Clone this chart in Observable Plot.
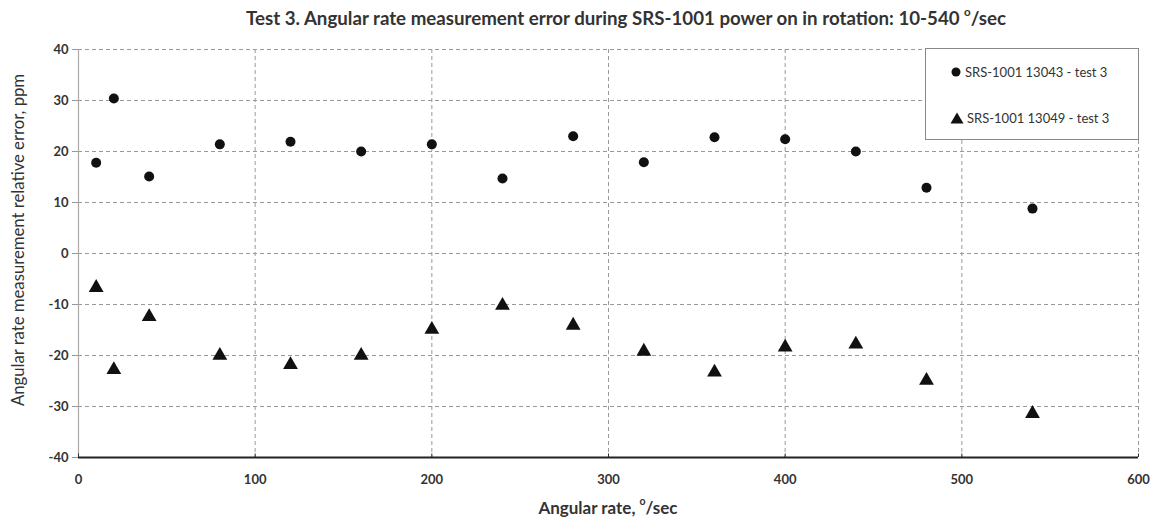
<!DOCTYPE html>
<html>
<head>
<meta charset="utf-8">
<script src="https://cdn.jsdelivr.net/npm/d3@7"></script>
<script src="https://cdn.jsdelivr.net/npm/@observablehq/plot@0.6"></script>
<style>
  body { margin: 0; background: #fff; font-family: Lato, "Open Sans", sans-serif; }
  #wrap { position: relative; width: 1158px; height: 519px; }
  #chart { position: absolute; left: 0; top: 0; }
  .title { position: absolute; left: 0; width: 1158px; top: 7px; text-align: center; font-weight: bold; font-size: 18.7px; color: #333; padding-left: 94px; box-sizing: border-box; }
  .xlabel { position: absolute; left: 78px; width: 1060px; top: 497px; text-align: center; font-weight: bold; font-size: 17px; color: #333; }
  .ylabel { position: absolute; left: 18px; top: 240px; transform: translate(-50%, -50%) rotate(-90deg); white-space: nowrap; font-size: 16.7px; color: #333; }
  sup { font-size: 0.62em; position: relative; top: -0.15em; vertical-align: top; }
  .legend { position: absolute; left: 925px; top: 48px; width: 214px; height: 92px; border: 1px solid #888; background: #fff; box-sizing: border-box; font-size: 13px; color: #333; }
  .legend .item { position: absolute; left: 24px; display: flex; align-items: center; white-space: nowrap; }
  .legend svg { margin-right: 3px; }
</style>
</head>
<body>
<div id="wrap">
  <div id="chart"></div>
  <div class="title">Test 3. Angular rate measurement error during SRS-1001 power on in rotation: 10-540 <sup>o</sup>/sec</div>
  <div class="xlabel">Angular rate, <sup>o</sup>/sec</div>
  <div class="ylabel">Angular rate measurement relative error, ppm</div>
  <div class="legend" id="legend"></div>
</div>
<script>
const rates = [10, 20, 40, 80, 120, 160, 200, 240, 280, 320, 360, 400, 440, 480, 540];
const series1Name = "SRS-1001 13043 - test 3";
const series1 = [17.8, 30.4, 15.1, 21.4, 21.9, 20.0, 21.4, 14.7, 23.0, 17.9, 22.8, 22.4, 20.0, 12.9, 8.8];
const series2Name = "SRS-1001 13049 - test 3";
const series2 = [-6.7, -22.8, -12.4, -20.0, -21.8, -20.0, -14.9, -10.2, -14.1, -19.2, -23.3, -18.4, -17.8, -24.9, -31.4];
const xTicks = [0, 100, 200, 300, 400, 500, 600];
const yTicks = [-40, -30, -20, -10, 0, 10, 20, 30, 40];

const d1 = rates.map((x, i) => ({x, y: series1[i]}));
const d2 = rates.map((x, i) => ({x, y: series2[i]}));

const chart = Plot.plot({
  width: 1158,
  height: 519,
  marginTop: 49,
  marginBottom: 62,
  marginLeft: 78,
  marginRight: 20,
  style: { fontFamily: "Lato, 'Open Sans', sans-serif", background: "#fff" },
  x: { domain: [0, 600], ticks: xTicks },
  y: { domain: [-40, 40], ticks: yTicks },
  marks: [
    Plot.gridX(xTicks.slice(1), { stroke: "#999", strokeOpacity: 1, strokeDasharray: "4,3" }),
    Plot.gridY(yTicks.slice(1), { stroke: "#999", strokeOpacity: 1, strokeDasharray: "4,3" }),
    Plot.ruleX([0], { stroke: "#aaa", strokeWidth: 1.2 }),
    Plot.axisY({ ticks: yTicks, tickSize: 6, tickPadding: 4, stroke: "#999", fontWeight: "bold", fontSize: 13, fill: "#333", label: null, tickFormat: d => String(d) }),
    Plot.axisX({ ticks: xTicks, tickSize: 0, tickPadding: 17, fontWeight: "bold", fontSize: 13, fill: "#333", label: null, tickFormat: d => String(d) }),
    Plot.ruleX(xTicks, { x: d => d, y1: -40, y2: -39.3, stroke: "#333", strokeWidth: 1 }),
    Plot.ruleY([-40], { stroke: "#222", strokeWidth: 2 }),
    Plot.dot(d1, { x: "x", y: "y", r: 5, fill: "#111", stroke: "none" }),
    Plot.dot(d2, { x: "x", y: "y", r: 5.5, symbol: "triangle", fill: "#111", stroke: "none" })
  ]
});
document.getElementById("chart").appendChild(chart);

const legend = document.getElementById("legend");
legend.innerHTML = `
  <div class="item" style="top:15px"><svg width="12" height="12"><circle cx="6" cy="6" r="4.5" fill="#111"/></svg>${series1Name}</div>
  <div class="item" style="top:61px"><svg width="14" height="12"><polygon points="7,0.5 13.5,11.5 0.5,11.5" fill="#111"/></svg>${series2Name}</div>
`;
</script>
</body>
</html>
